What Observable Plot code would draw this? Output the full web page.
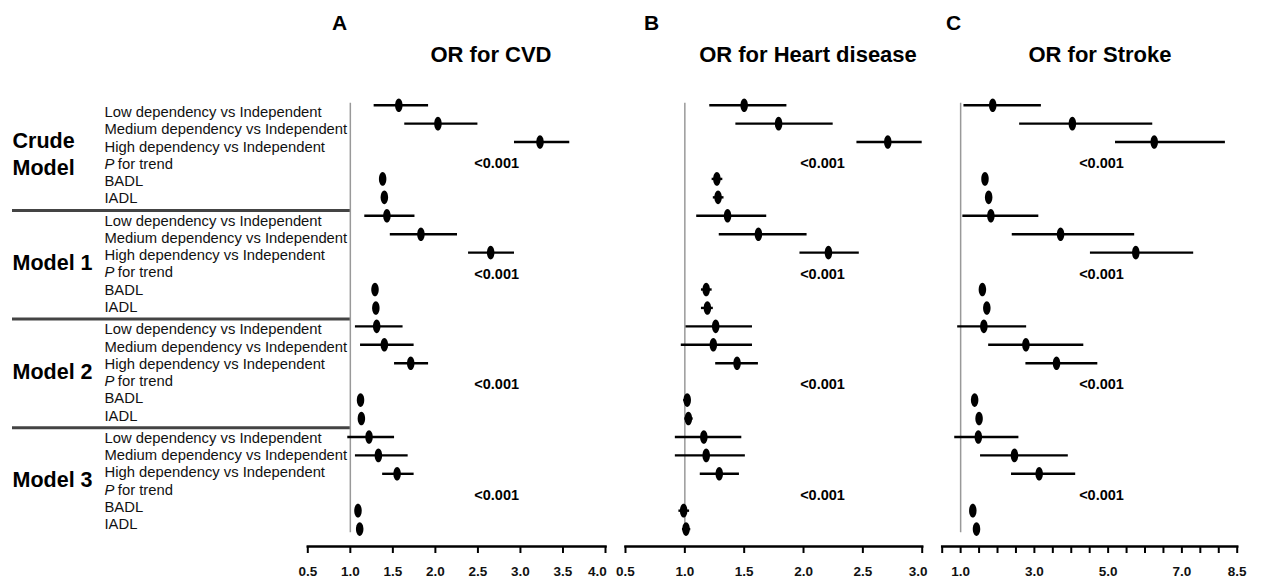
<!DOCTYPE html>
<html><head><meta charset="utf-8">
<script src="https://cdn.jsdelivr.net/npm/d3@7"></script>
<script src="https://cdn.jsdelivr.net/npm/@observablehq/plot@0.6"></script>
<style>
html,body{margin:0;padding:0;background:#fff;}
#chart{position:relative;width:1267px;height:582px;font-family:"Liberation Sans",Arial,Helvetica,sans-serif;overflow:hidden;background:#fff;}
#chart svg{position:absolute;left:0;top:0;}
.ttl{position:absolute;font-weight:bold;white-space:nowrap;line-height:1;color:#000;}
</style></head><body><div id="chart"></div>
<script>
// ---------------- data ----------------
const models = ["Crude\nModel", "Model 1", "Model 2", "Model 3"];
const rowLabels = ["Low dependency vs Independent", "Medium dependency vs Independent",
  "High dependency vs Independent", "P for trend", "BADL", "IADL"];
// estimates per model in order: Low, Medium, High, BADL, IADL
const cvdOR = [1.57,2.03,3.23,1.38,1.40, 1.43,1.83,2.65,1.29,1.30, 1.31,1.40,1.71,1.12,1.13, 1.22,1.33,1.55,1.09,1.11];
const cvdLo = [1.28,1.64,2.93,1.35,1.37, 1.17,1.47,2.39,1.26,1.27, 1.06,1.12,1.52,1.09,1.10, 0.97,1.06,1.38,1.06,1.08];
const cvdHi = [1.92,2.50,3.58,1.41,1.43, 1.76,2.26,2.93,1.32,1.33, 1.62,1.75,1.92,1.15,1.16, 1.52,1.68,1.75,1.12,1.14];
const heartOR = [1.50,1.79,2.71,1.27,1.28, 1.36,1.62,2.21,1.18,1.19, 1.26,1.24,1.44,1.02,1.03, 1.16,1.18,1.29,0.99,1.01];
const heartLo = [1.21,1.43,2.45,1.23,1.24, 1.10,1.29,1.97,1.14,1.14, 1.01,0.97,1.26,0.99,1.00, 0.92,0.92,1.13,0.95,0.98];
const heartHi = [1.86,2.25,3.00,1.32,1.33, 1.69,2.03,2.47,1.23,1.24, 1.57,1.57,1.62,1.05,1.07, 1.48,1.51,1.46,1.04,1.05];
const strokeOR = [1.87,4.03,6.25,1.66,1.76, 1.82,3.71,5.75,1.59,1.71, 1.63,2.77,3.60,1.38,1.50, 1.48,2.46,3.13,1.33,1.43];
const strokeLo = [1.09,2.60,5.20,1.62,1.72, 1.06,2.40,4.52,1.55,1.67, 0.92,1.76,2.77,1.34,1.46, 0.84,1.54,2.38,1.29,1.39];
const strokeHi = [3.19,6.21,8.18,1.70,1.80, 3.12,5.72,7.32,1.63,1.75, 2.79,4.34,4.72,1.42,1.54, 2.58,3.92,4.12,1.37,1.47];
const cvdP = ["<0.001","<0.001","<0.001","<0.001"];
const heartP = ["<0.001","<0.001","<0.001","<0.001"];
const strokeP = ["<0.001","<0.001","<0.001","<0.001"];
const ticksA = [0.5,1.0,1.5,2.0,2.5,3.0,3.5,4.0];
const ticksB = [0.5,1.0,1.5,2.0,2.5,3.0];
const ticksC = [0.5,1.0,1.5,2.0,2.5,3.0,3.5,4.0,4.5,5.0,5.5,6.0,6.5,7.0,7.5,8.0,8.5];
const tickLabelsC = [1.0,3.0,5.0,7.0,8.5];

// ---------------- layout ----------------
const W = 1267, H = 582;
const FONT = '"Liberation Sans",Arial,Helvetica,sans-serif';
const ROW_SLOTS = [0,1,2,4,5];
const panels = [
  {letter:"A", title:"OR for CVD", or:cvdOR, lo:cvdLo, hi:cvdHi, p:cvdP, domain:[0.5,4.0], px:[307.3,605], ticks:ticksA, labels:ticksA, lastDx:-8, pX:2.72, letterX:332, titleX:491},
  {letter:"B", title:"OR for Heart disease", or:heartOR, lo:heartLo, hi:heartHi, p:heartP, domain:[0.5,3.0], px:[625,921.7], ticks:ticksB, labels:ticksB, lastDx:-4, pX:2.16, letterX:644, titleX:808},
  {letter:"C", title:"OR for Stroke", or:strokeOR, lo:strokeLo, hi:strokeHi, p:strokeP, domain:[0.5,8.5], px:[941.7,1236.7], ticks:ticksC, labels:tickLabelsC, lastDx:0, pX:4.82, letterX:946, titleX:1100}
];

const ellipse = {
  draw(ctx, size) {
    const r = Math.sqrt(size / Math.PI), rx = r * 0.55, ry = r, k = 0.5523;
    ctx.moveTo(rx, 0);
    ctx.bezierCurveTo(rx, k*ry, k*rx, ry, 0, ry);
    ctx.bezierCurveTo(-k*rx, ry, -rx, k*ry, -rx, 0);
    ctx.bezierCurveTo(-rx, -k*ry, -k*rx, -ry, 0, -ry);
    ctx.bezierCurveTo(k*rx, -ry, rx, -k*ry, rx, 0);
    ctx.closePath();
  }
};

const chart = document.getElementById("chart");

// ---------------- label column ----------------
const STRIDE = 6.28;
const labelRows = [];
models.forEach((m, g) => rowLabels.forEach((lab, r) => labelRows.push({pos: g*STRIDE + r, label: lab, r})));
const groupRows = models.map((m, g) => ({pos: g*STRIDE + 2.35, label: m}));
const seps = [1,2,3].map(g => g*STRIDE - 0.6);

const labelPlot = Plot.plot({
  width: W, height: H, marginLeft: 12, marginRight: W - 350, marginTop: 0, marginBottom: 36,
  x: {type: "point", domain: ["model","row"], range: [12, 104], padding: 0, axis: null},
  y: {domain: [0, 1], range: [111.7, 129.0], axis: null},
  style: {background: "transparent", fontFamily: FONT, overflow: "visible"},
  marks: [
    Plot.ruleY(seps, {y: d => d, stroke: "#444", strokeWidth: 3}),
    Plot.text(labelRows.filter(d => d.r !== 3), {x: () => "row", y: "pos", text: "label", textAnchor: "start", fontSize: 14.8, fill: "#111"}),
    Plot.text(labelRows.filter(d => d.r === 3), {x: () => "row", y: "pos", text: () => "P", textAnchor: "start", fontSize: 14.8, fontStyle: "italic", fill: "#111"}),
    Plot.text(labelRows.filter(d => d.r === 3), {x: () => "row", y: "pos", text: () => "for trend", textAnchor: "start", dx: 13.3, fontSize: 14.8, fill: "#111"}),
    Plot.text(groupRows, {x: () => "model", y: "pos", text: "label", textAnchor: "start", fontSize: 21.5, fontWeight: "bold", lineHeight: 1.24, fill: "#000"})
  ]
});
chart.appendChild(labelPlot);

// ---------------- panels ----------------
for (const P of panels) {
  const data = [];
  for (let g = 0; g < 4; g++) for (let k = 0; k < 5; k++) {
    const i = g*5 + k;
    data.push({row: g*6 + ROW_SLOTS[k], or: P.or[i], lo: P.lo[i], hi: P.hi[i]});
  }
  const pData = P.p.map((t, g) => ({row: g*6 + 3, text: t}));
  const lastTick = P.ticks[P.ticks.length - 1];
  const fmt = d => P.labels.includes(d) && d !== lastTick ? d.toFixed(1) : "";
  const axisOpts = {anchor: "bottom", strokeWidth: 2, fontSize: 13.5, fontWeight: "bold", fill: "#111"};
  const plot = Plot.plot({
    width: W, height: H, marginLeft: P.px[0], marginRight: W - P.px[1], marginTop: 0, marginBottom: 36,
    x: {domain: P.domain, range: P.px},
    y: {domain: [0, 23], range: [104.7, 528.6], axis: null},
    style: {background: "transparent", fontFamily: FONT, fontSize: "13.5px", fontWeight: "bold", overflow: "visible"},
    marks: [
      Plot.ruleX([1], {x: d => d, y1: -0.1, y2: 23.2, stroke: "#999", strokeWidth: 1.5}),
      Plot.ruleY(data, {y: "row", x1: "lo", x2: "hi", stroke: "#000", strokeWidth: 2.4}),
      Plot.dot(data, {x: "or", y: "row", r: 6.8, symbol: ellipse, fill: "#000", stroke: "none"}),
      Plot.text(pData, {x: P.pX, y: "row", text: "text", dy: 3, fontSize: 14.5, fontWeight: "bold", fill: "#000"}),
      Plot.frame({anchor: "bottom", stroke: "#000", strokeWidth: 2.5}),
      Plot.axisX(P.ticks, {...axisOpts, tickSize: 7, tickPadding: 13, tickFormat: fmt}),
      Plot.axisX([lastTick], {...axisOpts, tickSize: 0, tickPadding: 20, dx: P.lastDx, tickFormat: d => d.toFixed(1)})
    ]
  });
  chart.appendChild(plot);

  const L = document.createElement("div");
  L.className = "ttl"; L.textContent = P.letter;
  L.style.cssText = `left:${P.letterX}px;top:12px;font-size:21px;`;
  chart.appendChild(L);
  const T = document.createElement("div");
  T.className = "ttl"; T.textContent = P.title;
  T.style.cssText = `left:${P.titleX}px;top:44px;font-size:22px;transform:translateX(-50%);`;
  chart.appendChild(T);
}
</script>
</body></html>
